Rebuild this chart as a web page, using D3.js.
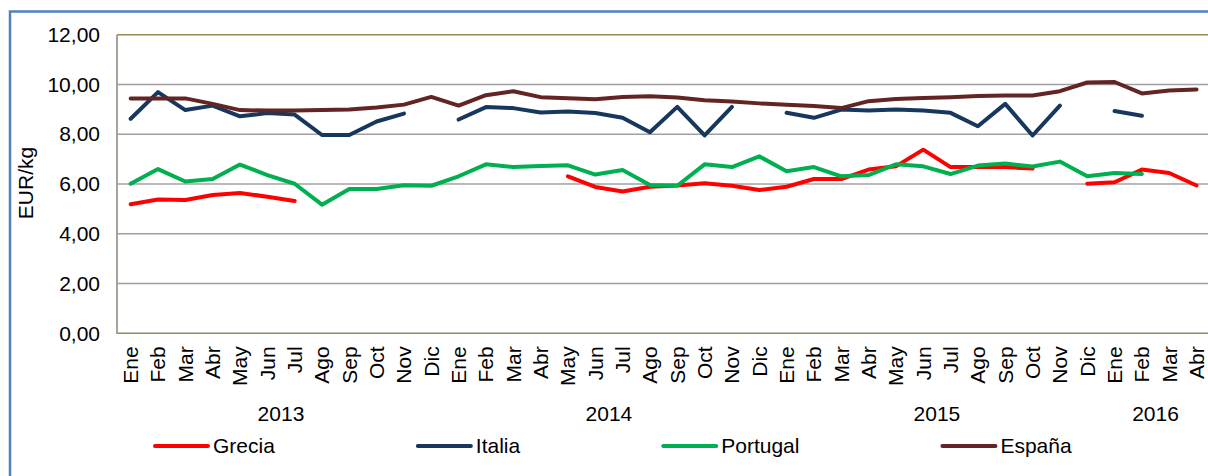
<!doctype html>
<html lang="es">
  <head>
    <meta charset="utf-8">
    <title>Precios EUR/kg</title>
    <script src="https://d3js.org/d3.v7.min.js"></script>
    <style>
      body { margin: 0; background: #fff; }
      svg { display: block; font-family: "Liberation Sans", Arial, sans-serif; }
    </style>
  </head>
  <body>
    <svg width="1208" height="476"></svg>
    <script>
      // categorias (meses) y grupos de años
      var months = ["Ene","Feb","Mar","Abr","May","Jun","Jul","Ago","Sep","Oct","Nov","Dic",
                    "Ene","Feb","Mar","Abr","May","Jun","Jul","Ago","Sep","Oct","Nov","Dic",
                    "Ene","Feb","Mar","Abr","May","Jun","Jul","Ago","Sep","Oct","Nov","Dic",
                    "Ene","Feb","Mar","Abr"];
      var years = ["2013", "2014", "2015", "2016"];
      var yearCounts = [12, 12, 12, 4];
      var yTicks = [0, 2, 4, 6, 8, 10, 12];

      // series (null = sin dato)
      var grecia = [5.19,5.38,5.36,5.56,5.64,5.49,5.32,null,null,null,null,null,
                    null,null,null,null,6.31,5.88,5.70,5.89,5.94,6.03,5.93,5.76,
                    5.89,6.20,6.20,6.58,6.71,7.38,6.68,6.68,6.68,6.62,null,6.01,
                    6.07,6.58,6.44,5.94];
      var italia = [8.62,9.69,8.97,9.15,8.72,8.85,8.79,7.97,7.97,8.51,8.83,null,
                    8.59,9.09,9.05,8.87,8.91,8.85,8.66,8.08,9.10,7.95,9.10,null,
                    8.86,8.66,8.99,8.95,8.99,8.95,8.86,8.32,9.22,7.95,9.15,null,
                    8.93,8.74,null,null];
      var portugal = [6.01,6.60,6.10,6.20,6.78,6.36,6.01,5.17,5.80,5.80,5.95,5.93,
                      6.31,6.79,6.68,6.72,6.75,6.38,6.56,5.96,5.93,6.79,6.68,7.11,
                      6.51,6.68,6.31,6.36,6.79,6.71,6.40,6.74,6.82,6.70,6.90,6.31,
                      6.44,6.40,null,null];
      var espana = [9.44,9.44,9.44,9.22,8.97,8.95,8.95,8.97,8.99,9.07,9.19,9.50,
                    9.15,9.57,9.73,9.49,9.45,9.41,9.50,9.53,9.48,9.37,9.32,9.24,
                    9.18,9.13,9.05,9.33,9.42,9.46,9.49,9.54,9.56,9.56,9.73,10.08,
                    10.10,9.64,9.76,9.80];

      var seriesNames = ["Grecia", "Italia", "Portugal", "España"];
      var seriesValues = [grecia, italia, portugal, espana];
      var seriesColors = ["#ff0000", "#17375e", "#00b050", "#632523"];

      var svg = d3.select("svg"),
          fontSize = 21;

      // marco exterior del grafico
      svg.append("rect")
        .attr("x", 10).attr("y", 11.5)
        .attr("width", 1300).attr("height", 600)
        .attr("fill", "none")
        .attr("stroke", "#4f81bd")
        .attr("stroke-width", 2.5);

      var plotLeft = 117, plotTop = 34.7, plotBottom = 333.3, step = 27.33;

      var x = d3.scaleBand()
                .domain(d3.range(months.length))
                .range([plotLeft, plotLeft + step * months.length]);
      var y = d3.scaleLinear()
                .domain([0, 12])
                .range([plotBottom, plotTop]);
      var cx = function(i) { return x(i) + x.bandwidth() / 2; };

      // lineas de la cuadricula
      svg.append("g")
        .selectAll("line")
        .data(yTicks.filter(function(v) { return v > 0 && v < 12; }))
        .join("line")
          .attr("x1", plotLeft).attr("x2", 1208)
          .attr("y1", function(d) { return y(d); })
          .attr("y2", function(d) { return y(d); })
          .attr("stroke", "#a0a0a0")
          .attr("stroke-width", 1.5);

      // borde del area de trazado
      svg.append("line")
        .attr("x1", plotLeft).attr("x2", 1208)
        .attr("y1", y(12)).attr("y2", y(12))
        .attr("stroke", "#948a54").attr("stroke-width", 1.5);
      svg.append("line")
        .attr("x1", plotLeft).attr("x2", 1208)
        .attr("y1", y(0)).attr("y2", y(0))
        .attr("stroke", "#948a54").attr("stroke-width", 1.5);
      svg.append("line")
        .attr("x1", plotLeft).attr("x2", plotLeft)
        .attr("y1", y(12)).attr("y2", y(0) + 0.7)
        .attr("stroke", "#a5a597").attr("stroke-width", 2);

      // eje Y
      var yAxis = svg.append("g")
        .attr("transform", "translate(" + plotLeft + ",0)")
        .call(d3.axisLeft(y)
                .tickValues(yTicks)
                .tickSize(0)
                .tickPadding(17)
                .tickFormat(function(d) { return d3.format(".2f")(d).replace(".", ","); }));
      yAxis.select(".domain").remove();
      yAxis.selectAll("text")
        .attr("font-size", fontSize)
        .attr("font-family", "Liberation Sans, Arial, sans-serif")
        .attr("fill", "#000");

      svg.append("text")
        .attr("transform", "translate(33,183) rotate(-90)")
        .attr("text-anchor", "middle")
        .attr("font-size", fontSize)
        .attr("fill", "#000")
        .text("EUR/kg");

      // eje X (meses)
      var xAxis = svg.append("g")
        .attr("transform", "translate(0," + plotBottom + ")")
        .call(d3.axisBottom(x)
                .tickSize(0)
                .tickFormat(function(i) { return months[i]; }));
      xAxis.select(".domain").remove();
      xAxis.selectAll("text")
        .attr("transform", "rotate(-90)")
        .attr("text-anchor", "end")
        .attr("x", -13)
        .attr("y", 0)
        .attr("dy", "0.35em")
        .attr("font-size", fontSize)
        .attr("font-family", "Liberation Sans, Arial, sans-serif")
        .attr("fill", "#000");

      // años
      var start = 0;
      years.forEach(function(yr, k) {
        var a = start, b = start + yearCounts[k] - 1;
        svg.append("text")
          .attr("x", (cx(a) + cx(b)) / 2)
          .attr("y", 421)
          .attr("text-anchor", "middle")
          .attr("font-size", fontSize)
          .attr("fill", "#000")
          .text(yr);
        start += yearCounts[k];
      });

      // lineas de datos
      var line = d3.line()
                   .defined(function(d) { return d != null; })
                   .x(function(d, i) { return cx(i); })
                   .y(function(d) { return y(d); });

      seriesValues.forEach(function(vals, k) {
        svg.append("path")
          .datum(vals)
          .attr("fill", "none")
          .attr("stroke", seriesColors[k])
          .attr("stroke-width", 4)
          .attr("stroke-linejoin", "round")
          .attr("stroke-linecap", "round")
          .attr("d", line);
      });

      // leyenda
      var lx = 155, ly = 446;
      seriesNames.forEach(function(name, k) {
        svg.append("line")
          .attr("x1", lx).attr("x2", lx + 53)
          .attr("y1", ly).attr("y2", ly)
          .attr("stroke", seriesColors[k])
          .attr("stroke-width", 4)
          .attr("stroke-linecap", "round");
        var t = svg.append("text")
          .attr("x", lx + 58)
          .attr("y", ly)
          .attr("dy", "0.35em")
          .attr("font-size", fontSize)
          .attr("fill", "#000")
          .text(name);
        lx += t.node().getComputedTextLength() + 201;
      });
    </script>
  </body>
</html>
